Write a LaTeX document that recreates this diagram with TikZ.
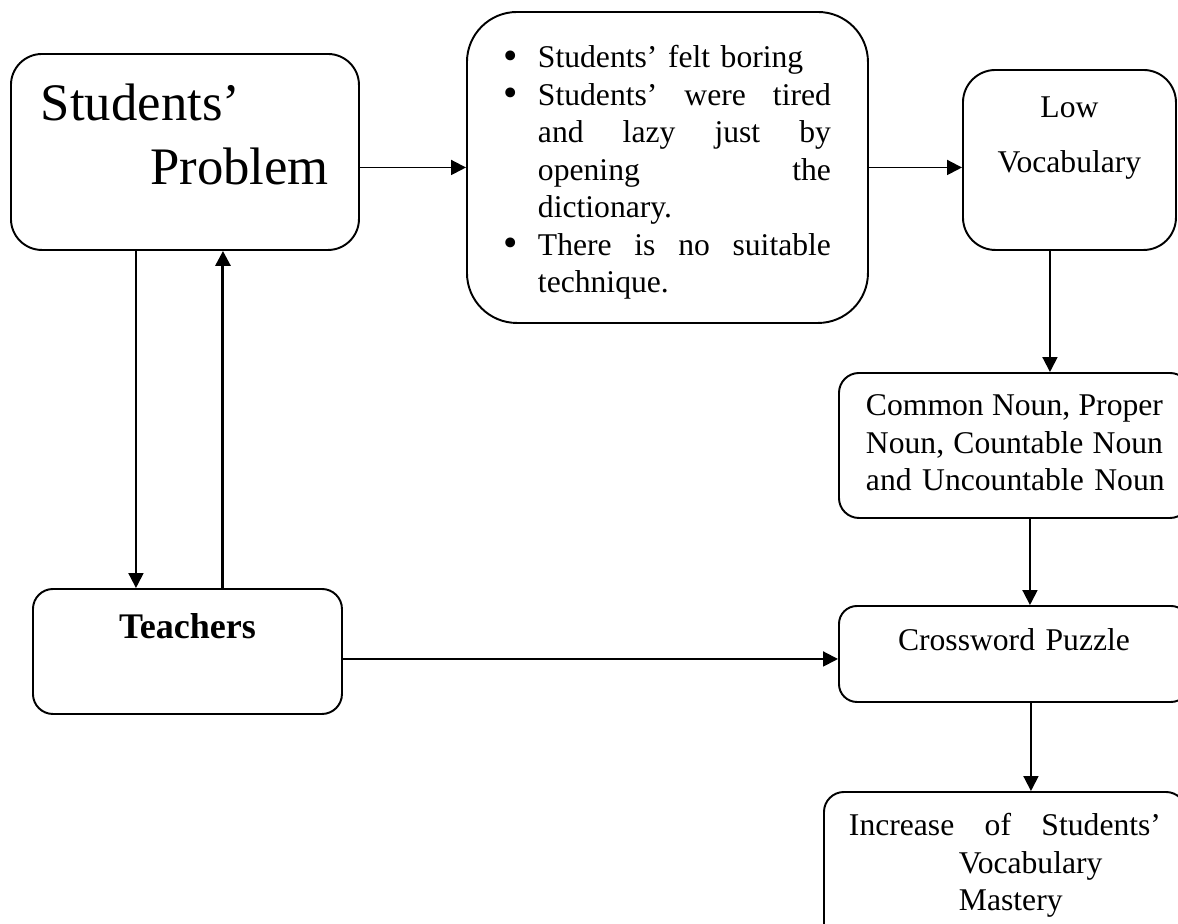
\documentclass[tikz,border=0pt]{standalone}
\usepackage{fontspec}
\setmainfont{Liberation Serif}
\usepackage{graphicx}
\usepackage{tikz}
\usetikzlibrary{arrows.meta,calc,positioning}

\newcommand{\dotitem}{\makebox[0.68cm][l]{\raisebox{-0.6pt}{\scalebox{1.3}{•}}}}

\begin{document}
\begin{tikzpicture}[>=Triangle,
    block/.style={draw=black, line width=1.1pt, rounded corners=0.4cm, anchor=north west, inner ysep=0pt, inner xsep=0pt},
    arrow/.style={-{Triangle[length=0.3cm,width=0.3cm]}, line width=1.1pt},
    txt/.style={font=\fontsize{18}{21.3}\selectfont}
  ]
    \useasboundingbox (0,0) rectangle (23.56,-18.46);
    \clip (0,0) rectangle (23.56,-18.46);
    % boxes
    \node[block, rounded corners=0.62cm, inner xsep=0.6cm, text width=5.76cm, align=left,
          text height=1.34cm, text depth=2.58cm, font=\fontsize{30}{36}\selectfont]
          (problem) at (0.20,-1.06) {Students’\\\hspace*{\fill}Problem};
    \node[block, txt, rounded corners=1cm, inner xsep=0.74cm, text width=6.54cm, align=left,
          text height=1.12cm, text depth=5.10cm] (reasons) at (9.32,-0.22)
          {\dotitem Students’ felt boring\\
           \dotitem Students’\hfill were\hfill tired\\
           \hspace*{0.68cm}and\hfill lazy\hfill just\hfill by\\
           \hspace*{0.68cm}opening\hfill the\\
           \hspace*{0.68cm}dictionary.\\
           \dotitem There\hfill is\hfill no\hfill suitable\\
           \hspace*{0.68cm}technique.};
    \node[block, txt, rounded corners=0.65cm, text width=4.26cm, align=center,
          text height=0.96cm, text depth=2.64cm] (lowvocab) at (19.24,-1.38)
          {Low\\[10pt]Vocabulary};
    \node[block, txt, inner xsep=0.54cm, text width=5.94cm, align=left,
          text height=0.86cm, text depth=2.04cm] (nouns) at (16.76,-7.44)
          {Common\hfill Noun,\hfill Proper\\
           Noun,\hfill Countable\hfill Noun\\
           \mbox{and Uncountable Noun}};
    \node[block, txt, rounded corners=0.36cm, text width=7.0cm, align=center,
          text height=0.9cm, text depth=1.02cm] (puzzle) at (16.76,-12.10)
          {Crossword Puzzle};
    \node[block, text width=6.18cm, align=center, text height=1.0cm, text depth=1.5cm,
          font=\fontsize{20.5}{24}\selectfont\bfseries] (teachers) at (0.64,-11.76)
          {Teachers};
    \node[block, txt, inner xsep=0.5cm, text width=6.24cm, align=left,
          text height=0.88cm, text depth=3.0cm] (mastery) at (16.46,-15.82)
          {Increase\hfill of\hfill Students’\\
           \hspace*{2.2cm}Vocabulary\\
           \hspace*{2.2cm}Mastery};
    % connectors
    \draw[arrow] (problem.east |- reasons.west) -- (reasons.west);
    \draw[arrow] (reasons.east) -- (reasons.east -| lowvocab.west);
    \draw[arrow] ([xshift=-0.39cm]lowvocab.south) -- ([xshift=-0.39cm]lowvocab.south |- nouns.north);
    \draw[arrow] ([xshift=0.31cm]nouns.south) -- ([xshift=0.31cm]nouns.south |- puzzle.north);
    \draw[arrow] ([xshift=0.34cm]puzzle.south) -- ([xshift=0.34cm]puzzle.south |- mastery.north);
    \draw[arrow] ([xshift=-0.98cm]problem.south) -- ([xshift=-0.98cm]problem.south |- teachers.north);
    \draw[arrow, line width=1.7pt] ([xshift=0.76cm]problem.south |- teachers.north) -- ([xshift=0.76cm]problem.south);
    \draw[arrow] ([yshift=-0.1cm]puzzle.west -| teachers.east) -- ([yshift=-0.1cm]puzzle.west);
\end{tikzpicture}
\end{document}
